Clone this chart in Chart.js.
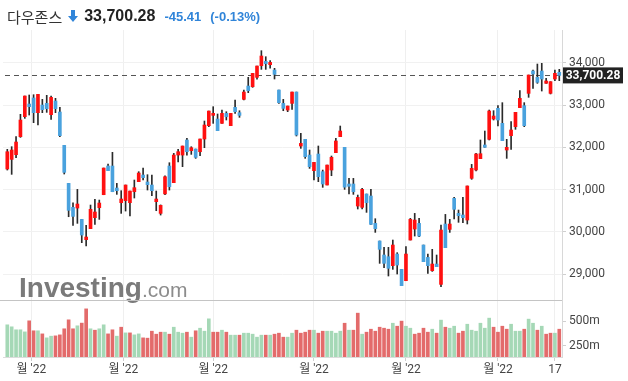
<!DOCTYPE html>
<html>
<head>
<meta charset="utf-8">
<script src="https://cdn.jsdelivr.net/npm/chart.js@4.4.1/dist/chart.umd.min.js"></script>
<style>
  html,body{margin:0;padding:0;background:#fff;}
  #wrap{position:relative;width:628px;height:381px;overflow:hidden;}
  #hdr{position:absolute;left:7px;top:4px;height:24px;display:flex;align-items:center;white-space:nowrap;}
  .nm{font-family:"Noto Sans CJK KR","Noto Sans",sans-serif;font-size:15px;color:#333;}
  .px{font-family:"Liberation Sans",Arial,sans-serif;font-weight:bold;font-size:16px;color:#222;margin-left:6px;}
  .ch{font-family:"Liberation Sans",Arial,sans-serif;font-weight:bold;font-size:13px;color:#3185d9;margin-left:9px;}
  canvas{position:absolute;left:0;top:0;}
</style>
</head>
<body>
<div id="wrap">
  <canvas id="c" width="628" height="381"></canvas>
  <div id="hdr">
    <span class="nm">다우존스</span>
    <svg width="10" height="12" viewBox="0 0 10 12" style="margin-left:6px"><path d="M3 0h4v6h3l-5 6-5-6h3z" fill="#3185d9"/></svg>
    <span class="px">33,700.28</span>
    <span class="ch">-45.41</span>
    <span class="ch">(-0.13%)</span>
  </div>
</div>
<script>
// ---- data (daily candles) ----
const open = [31488,31716,31827,32252,32725,33024,33166,32819,33000,33040,32772,33095,32835,32047,31149,30582,30566,30298,29818,30078,30338,30574,30881,31559,31559,31039,30692,30740,30692,30952,31189,31346,31181,31110,30716,30440,30900,31558,31165,31818,31818,32173,31921,31960,31897,32197,32512,32756,32669,32567,32803,32512,32945,32819,33134,33449,33433,33654,33929,34032,33953,33827,33355,33039,32882,33039,33307,32031,32189,31818,31449,31842,31425,31110,31464,31874,32252,32000,31134,31134,30613,30582,30897,30850,30204,29787,29456,29416,29204,29479,29117,28849,29810,30070,30204,29692,29400,29085,29243,28762,30188,30062,30795,30440,30401,30283,31268,31465,31732,32056,32189,32670,32922,32567,31937,32276,32489,32938,32985,33276,33804,33654,33804,33513,33276,33615,33773];
const high = [31953,32016,32252,32780,33213,33237,33244,33252,33134,33229,33213,33158,32945,32047,31149,30692,31007,30298,30157,30637,30771,30755,31511,31606,31882,31149,30976,31110,30968,31228,31425,31511,31354,31346,30968,30640,31330,31637,31858,31952,32031,32212,32015,31960,32197,32622,32858,32961,32788,32882,32842,32803,33118,32866,33355,33654,33748,33922,34284,34142,34048,33867,33355,33134,32976,33307,33307,32331,32189,31937,31645,32032,31464,31582,31795,32213,32504,32000,31267,31267,30873,31031,30897,31007,30314,29787,29637,29637,29810,29511,29117,29653,30322,30440,30322,29692,29479,29590,29456,30164,30416,30298,30818,30519,30819,31087,31598,31858,32174,32386,32882,32867,32985,33056,32189,32607,32828,33339,33056,33709,33828,33969,33985,33631,33552,33828,33843];
const low = [31464,31362,31756,32236,32685,32764,32583,32528,32819,32827,32662,32819,32252,31370,30361,30157,30204,29747,29668,30078,30180,30298,30881,31449,30952,30889,30440,30495,30377,30803,31189,31228,30992,30858,30503,30400,30880,30991,31165,31653,31543,31818,31834,31740,31803,31992,32488,32567,32394,32567,32646,32512,32803,32709,33118,33292,33418,33614,33843,33843,33874,33615,33039,32866,32843,32898,32268,31976,31740,31503,31228,31189,31055,31110,31330,31874,32252,31007,30897,30889,30543,30543,30464,30180,29991,29259,29156,28960,29117,29007,28731,28849,29810,29904,29889,29298,29023,29070,29180,28707,29629,29991,30306,30228,30220,30189,31244,31441,31732,32000,32174,32646,32504,32158,31740,31953,32426,32938,32489,33182,33394,33513,33331,33513,33261,33576,33576];
const close = [31897,31937,32126,32646,33213,32961,32819,33252,32890,32914,33181,32914,32276,31409,30511,30369,30661,29928,29881,30535,30472,30684,31511,31449,30952,30976,30779,31110,30968,31047,31393,31283,31118,30976,30779,30629,31306,31070,31818,31897,32031,31897,31992,31763,32197,32528,32858,32804,32394,32803,32724,32803,32843,32756,33307,33339,33748,33922,34158,33977,34008,33725,33055,32921,32976,33307,32291,32094,31779,31543,31645,31307,31134,31582,31764,32150,32386,31060,31080,30952,30818,31007,30692,30180,30078,29590,29259,29141,29692,29219,28731,29479,30298,30282,29904,29298,29204,29243,29180,30046,29629,30188,30535,30385,30338,31087,31504,31843,31850,32000,32859,32740,32646,32158,32000,32410,32828,33158,32512,33709,33733,33536,33615,33568,33552,33749,33700];
const volume = [462,442,412,412,391,502,402,402,371,331,348,351,361,422,512,422,452,479,622,422,408,422,462,371,412,348,438,381,381,361,371,331,328,398,368,388,388,368,438,388,378,388,338,402,428,398,522,388,388,408,388,358,358,358,378,378,368,338,358,358,358,368,378,338,338,378,408,378,388,408,408,378,398,398,398,378,398,478,408,408,579,368,388,418,398,438,428,418,478,448,499,448,428,368,378,428,388,418,378,509,438,428,448,378,398,468,408,398,478,428,529,438,388,448,418,468,398,398,418,519,478,408,448,368,378,378,418];
const xTickLabels = ["월 '22","월 '22","월 '22","월 '22","월 '22","월 '22","17"];
const xTickAt = [5.5, 26.5, 47, 70, 91, 112, 125];
const priceTicks = [29000, 30000, 31000, 32000, 33000, 34000];
const volTicks = [250, 500];
const lastPrice = 33700.28;

const UP = '#ff1010', DOWN = '#4aa2de';
const VUP = '#a5d8b6', VDOWN = '#e36b6b';

const bodyData = close.map((c, i) => ({x: i, y: [open[i], c]}));
const wickData = close.map((c, i) => ({x: i, y: [low[i], high[i]]}));
const volData = volume.map((v, i) => ({x: i, y: v}));

const overlay = {
  id: 'overlay',
  beforeDatasetsDraw(chart) {
    const {ctx, chartArea, scales} = chart;
    const yv = scales.yv;
    ctx.save();
    // watermark
    ctx.fillStyle = '#7a7a7a';
    ctx.textBaseline = 'alphabetic';
    ctx.font = 'bold 28px "Liberation Sans", Arial, sans-serif';
    ctx.fillText('Investing', 19, 297);
    const w = ctx.measureText('Investing').width;
    ctx.fillStyle = '#8c8c8c';
    ctx.font = '21px "Liberation Sans", Arial, sans-serif';
    ctx.fillText('.com', 19 + w, 297);
    // separator between price & volume
    ctx.strokeStyle = '#c4c4c4';
    ctx.lineWidth = 1;
    ctx.beginPath();
    ctx.moveTo(0, Math.round(yv.top) + 0.5);
    ctx.lineTo(chartArea.right, Math.round(yv.top) + 0.5);
    ctx.stroke();
    // last price dashed line
    const py = Math.round(scales.y.getPixelForValue(lastPrice)) + 0.5;
    ctx.strokeStyle = '#555';
    ctx.setLineDash([5, 4]);
    ctx.beginPath();
    ctx.moveTo(chartArea.left + 2, py);
    ctx.lineTo(chartArea.right, py);
    ctx.stroke();
    ctx.restore();
  },
  afterDraw(chart) {
    const {ctx, chartArea, scales} = chart;
    const py = scales.y.getPixelForValue(lastPrice);
    ctx.save();
    ctx.fillStyle = '#222';
    ctx.fillRect(chartArea.right + 1, py - 8, 60, 16);
    ctx.fillStyle = '#fff';
    ctx.font = 'bold 12px Roboto, "Liberation Sans", Arial, sans-serif';
    ctx.textAlign = 'center';
    ctx.textBaseline = 'middle';
    ctx.fillText(lastPrice.toLocaleString('en-US', {minimumFractionDigits: 2}), chartArea.right + 31, py + 0.5);
    ctx.restore();
  }
};

new Chart(document.getElementById('c'), {
  type: 'bar',
  data: {
    datasets: [
      {data: bodyData, yAxisID: 'y', barThickness: 3, minBarLength: 2, order: 0,
       backgroundColor: ctx => close[ctx.dataIndex] >= open[ctx.dataIndex] ? UP : DOWN},
      {data: wickData, yAxisID: 'y', barThickness: 1, order: 1, backgroundColor: '#2a2a2a'},
      {data: volData, yAxisID: 'yv', barThickness: 3, order: 2,
       backgroundColor: ctx => (ctx.dataIndex === 0 || close[ctx.dataIndex] >= close[ctx.dataIndex - 1]) ? VUP : VDOWN}
    ]
  },
  options: {
    responsive: false,
    animation: false,
    layout: {padding: {top: 30, left: 3, right: 0, bottom: 0}},
    plugins: {legend: {display: false}, tooltip: {enabled: false}},
    datasets: {bar: {grouped: false}},
    scales: {
      x: {
        type: 'linear', min: -0.98, max: 126.62, position: 'bottom', offset: false,
        afterBuildTicks: s => { s.ticks = xTickAt.map(v => ({value: v})); },
        afterFit: s => { s.height = 24; },
        ticks: {autoSkip: false, maxRotation: 0, padding: 2, color: '#444',
                font: {size: 12, family: 'Roboto, "Noto Sans CJK KR", sans-serif'},
                callback: (v, i) => xTickLabels[i]},
        grid: {offset: false, color: '#efefef', tickLength: 4, tickColor: '#cfcfcf'},
        border: {color: '#dcdcdc'}
      },
      y: {
        position: 'right', stack: 'main', stackWeight: 270,
        min: 28393, max: 34773,
        afterBuildTicks: s => { s.ticks = priceTicks.map(v => ({value: v})); },
        afterFit: s => { s.width = 66; },
        ticks: {padding: 3, color: '#444', font: {size: 12, family: 'Roboto, Arial, sans-serif'},
                callback: v => v.toLocaleString('en-US')},
        grid: {color: '#f1f1f1', tickLength: 4, tickColor: '#cfcfcf'},
        border: {color: '#d8d8d8'}
      },
      yv: {
        position: 'right', stack: 'main', stackWeight: 57,
        min: 139, max: 711,
        afterBuildTicks: s => { s.ticks = volTicks.map(v => ({value: v})); },
        afterFit: s => { s.width = 66; },
        ticks: {padding: 3, color: '#444', font: {size: 12, family: 'Roboto, Arial, sans-serif'},
                callback: v => v + 'm'},
        grid: {drawOnChartArea: false, tickLength: 4, tickColor: '#cfcfcf'},
        border: {color: '#d8d8d8'}
      }
    }
  },
  plugins: [overlay]
});
</script>
</body>
</html>
